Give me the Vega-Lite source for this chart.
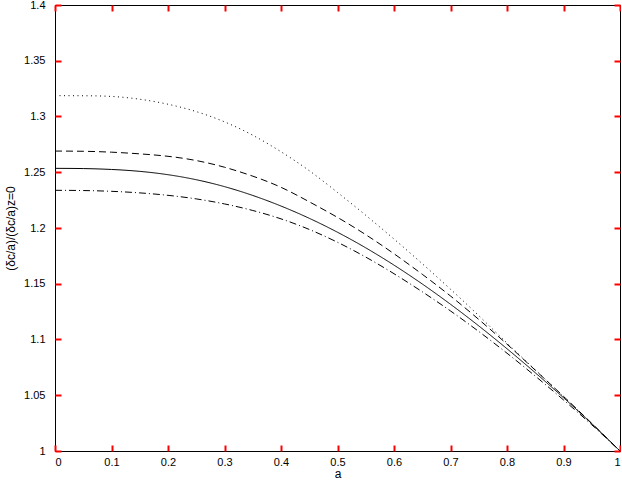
{
  "$schema": "https://vega.github.io/schema/vega-lite/v6.json",
  "autosize": {"type": "none"},
  "padding": {"left": 55, "top": 5, "right": 1, "bottom": 31},
  "width": 565,
  "height": 446,
  "background": "white",
  "config": {
    "view": {"stroke": "black", "strokeWidth": 1}
  },
  "data": {"values": [
    {"a": 0, "v": 1.3187, "s": "dotted"}, {"a": 0.05, "v": 1.3186, "s": "dotted"}, {"a": 0.1, "v": 1.318, "s": "dotted"}, {"a": 0.15, "v": 1.3155, "s": "dotted"}, {"a": 0.2, "v": 1.311, "s": "dotted"}, {"a": 0.25, "v": 1.3044, "s": "dotted"}, {"a": 0.3, "v": 1.2952, "s": "dotted"}, {"a": 0.35, "v": 1.2832, "s": "dotted"}, {"a": 0.4, "v": 1.2684, "s": "dotted"}, {"a": 0.45, "v": 1.2514, "s": "dotted"}, {"a": 0.5, "v": 1.2319, "s": "dotted"}, {"a": 0.55, "v": 1.2114, "s": "dotted"}, {"a": 0.6, "v": 1.1901, "s": "dotted"}, {"a": 0.65, "v": 1.168, "s": "dotted"}, {"a": 0.7, "v": 1.1451, "s": "dotted"}, {"a": 0.75, "v": 1.1214, "s": "dotted"}, {"a": 0.8, "v": 1.0968, "s": "dotted"}, {"a": 0.85, "v": 1.0728, "s": "dotted"}, {"a": 0.9, "v": 1.0488, "s": "dotted"}, {"a": 0.95, "v": 1.0245, "s": "dotted"}, {"a": 1, "v": 1.0, "s": "dotted"},
    {"a": 0, "v": 1.269, "s": "dashed"}, {"a": 0.05, "v": 1.2688, "s": "dashed"}, {"a": 0.1, "v": 1.268, "s": "dashed"}, {"a": 0.15, "v": 1.2665, "s": "dashed"}, {"a": 0.2, "v": 1.2643, "s": "dashed"}, {"a": 0.25, "v": 1.2605, "s": "dashed"}, {"a": 0.3, "v": 1.2545, "s": "dashed"}, {"a": 0.35, "v": 1.2465, "s": "dashed"}, {"a": 0.4, "v": 1.2365, "s": "dashed"}, {"a": 0.45, "v": 1.2235, "s": "dashed"}, {"a": 0.5, "v": 1.2095, "s": "dashed"}, {"a": 0.55, "v": 1.194, "s": "dashed"}, {"a": 0.6, "v": 1.1769, "s": "dashed"}, {"a": 0.65, "v": 1.1585, "s": "dashed"}, {"a": 0.7, "v": 1.139, "s": "dashed"}, {"a": 0.75, "v": 1.118, "s": "dashed"}, {"a": 0.8, "v": 1.0958, "s": "dashed"}, {"a": 0.85, "v": 1.0725, "s": "dashed"}, {"a": 0.9, "v": 1.049, "s": "dashed"}, {"a": 0.95, "v": 1.0248, "s": "dashed"}, {"a": 1, "v": 1.0, "s": "dashed"},
    {"a": 0, "v": 1.2535, "s": "solid"}, {"a": 0.05, "v": 1.2533, "s": "solid"}, {"a": 0.1, "v": 1.2525, "s": "solid"}, {"a": 0.15, "v": 1.2508, "s": "solid"}, {"a": 0.2, "v": 1.2478, "s": "solid"}, {"a": 0.25, "v": 1.2433, "s": "solid"}, {"a": 0.3, "v": 1.2371, "s": "solid"}, {"a": 0.35, "v": 1.2292, "s": "solid"}, {"a": 0.4, "v": 1.2197, "s": "solid"}, {"a": 0.45, "v": 1.2087, "s": "solid"}, {"a": 0.5, "v": 1.1962, "s": "solid"}, {"a": 0.55, "v": 1.1822, "s": "solid"}, {"a": 0.6, "v": 1.1667, "s": "solid"}, {"a": 0.65, "v": 1.1498, "s": "solid"}, {"a": 0.7, "v": 1.1316, "s": "solid"}, {"a": 0.75, "v": 1.1122, "s": "solid"}, {"a": 0.8, "v": 1.0917, "s": "solid"}, {"a": 0.85, "v": 1.0702, "s": "solid"}, {"a": 0.9, "v": 1.0478, "s": "solid"}, {"a": 0.95, "v": 1.0245, "s": "solid"}, {"a": 1, "v": 1.0, "s": "solid"},
    {"a": 0, "v": 1.2338, "s": "dashdot"}, {"a": 0.05, "v": 1.2336, "s": "dashdot"}, {"a": 0.1, "v": 1.2329, "s": "dashdot"}, {"a": 0.15, "v": 1.2315, "s": "dashdot"}, {"a": 0.2, "v": 1.2293, "s": "dashdot"}, {"a": 0.25, "v": 1.2261, "s": "dashdot"}, {"a": 0.3, "v": 1.2216, "s": "dashdot"}, {"a": 0.35, "v": 1.2157, "s": "dashdot"}, {"a": 0.4, "v": 1.2082, "s": "dashdot"}, {"a": 0.45, "v": 1.1987, "s": "dashdot"}, {"a": 0.5, "v": 1.1872, "s": "dashdot"}, {"a": 0.55, "v": 1.1739, "s": "dashdot"}, {"a": 0.6, "v": 1.159, "s": "dashdot"}, {"a": 0.65, "v": 1.1428, "s": "dashdot"}, {"a": 0.7, "v": 1.1256, "s": "dashdot"}, {"a": 0.75, "v": 1.1072, "s": "dashdot"}, {"a": 0.8, "v": 1.0877, "s": "dashdot"}, {"a": 0.85, "v": 1.0672, "s": "dashdot"}, {"a": 0.9, "v": 1.0458, "s": "dashdot"}, {"a": 0.95, "v": 1.0235, "s": "dashdot"}, {"a": 1, "v": 1.0, "s": "dashdot"}
  ]},
  "layer": [
    {
      "mark": {"type": "line", "interpolate": "natural", "strokeWidth": 1, "clip": true},
      "encoding": {
        "x": {"field": "a", "type": "quantitative", "scale": {"domain": [0, 1], "nice": false},
              "axis": {"orient": "bottom", "title": "a", "tickCount": 10, "format": "~g", "gridOpacity": 0, "domain": false, "offset": -6,
                       "tickSize": 6, "tickColor": "red", "tickWidth": 2,
                       "labelColor": "black", "labelFont": "Liberation Sans", "labelFontSize": 11, "labelPadding": 5,
                       "titleColor": "black", "titleFont": "Liberation Sans", "titleFontSize": 12, "titleFontWeight": "normal", "titlePadding": 1}},
        "y": {"field": "v", "type": "quantitative", "scale": {"domain": [1, 1.4], "nice": false, "zero": false},
              "axis": {"orient": "left", "title": "(δc/a)/(δc/a)z=0", "tickCount": 8, "format": "~g", "gridOpacity": 0, "domain": false, "offset": -6,
                       "tickSize": 6, "tickColor": "red", "tickWidth": 2,
                       "labelColor": "black", "labelFont": "Liberation Sans", "labelFontSize": 11, "labelPadding": 10,
                       "titleColor": "black", "titleFont": "Liberation Sans", "titleFontSize": 12, "titleFontWeight": "normal", "titlePadding": 6}},
        "color": {"field": "s", "type": "nominal", "scale": {"domain": ["dotted", "dashed", "solid", "dashdot"], "range": ["black", "black", "black", "black"]}, "legend": null},
        "strokeDash": {"field": "s", "type": "nominal", "scale": {"domain": ["dotted", "dashed", "solid", "dashdot"], "range": [[1, 3.5], [7, 4], [1, 0], [7, 3, 1, 3]]}, "legend": null}
      }
    },
    {
      "mark": {"type": "line", "opacity": 0},
      "encoding": {
        "x": {"field": "a", "type": "quantitative", "axis": {"orient": "top", "title": null, "labels": false, "tickCount": 10, "gridOpacity": 0, "domain": false, "offset": -6, "tickSize": 6, "tickColor": "red", "tickWidth": 2}},
        "y": {"field": "v", "type": "quantitative", "axis": {"orient": "right", "title": null, "labels": false, "tickCount": 8, "gridOpacity": 0, "domain": false, "offset": -6, "tickSize": 6, "tickColor": "red", "tickWidth": 2}},
        "detail": {"field": "s"}
      }
    }
  ],
  "resolve": {"axis": {"x": "independent", "y": "independent"}}
}
